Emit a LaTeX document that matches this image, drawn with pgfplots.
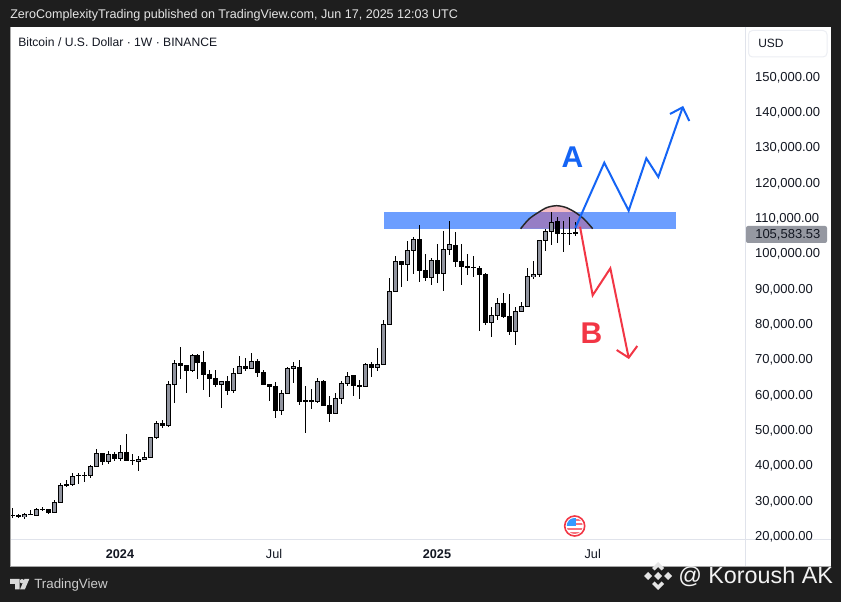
\documentclass[border=0pt]{standalone}
\usepackage{fontspec}
\setmainfont{Liberation Sans}
\usepackage{pgfplots}
\usepackage{pgfplotstable}
\pgfplotsset{compat=1.18}
\definecolor{frame}{RGB}{30,30,30}
\definecolor{sep}{RGB}{224,227,235}
\definecolor{upc}{RGB}{145,148,159}
\definecolor{bandc}{RGB}{108,158,255}
\definecolor{domec}{RGB}{229,69,91}
\definecolor{blueln}{RGB}{20,100,245}
\definecolor{redln}{RGB}{242,54,69}
\definecolor{txt}{RGB}{19,23,34}
\definecolor{tag}{RGB}{149,152,161}
% weekly candles, prices in thousands of USD
\pgfplotstableread{
i o h l c
0 25.57 27.55 24.91 25.57
1 25.48 26.04 24.91 25.48
2 25.19 26.23 24.63 25.85
3 25.95 27.08 25.85 25.95
4 25.57 27.55 25.57 27.27
5 27.27 27.93 26.70 27.27
6 27.27 27.27 26.04 26.33
7 26.42 29.91 26.42 29.25
8 29.25 34.63 29.25 34.07
9 34.35 35.58 33.69 33.97
10 34.35 37.47 33.97 36.62
11 36.99 37.47 34.35 36.99
12 36.99 37.75 35.10 36.99
13 36.90 39.83 36.24 39.45
14 39.45 44.36 39.45 43.13
15 43.13 43.13 39.83 40.77
16 40.87 43.79 40.20 42.85
17 42.85 43.41 41.05 41.62
18 41.71 45.49 41.05 43.41
19 43.41 48.60 41.15 41.15
20 41.15 42.94 39.92 41.15
21 40.87 42.28 38.22 41.43
22 41.43 43.41 41.43 41.99
23 41.99 47.66 41.99 47.66
24 47.56 52.29 47.28 51.63
25 51.63 52.57 50.21 50.96
26 50.96 63.52 50.49 62.67
27 62.67 69.56 57.29 68.62
28 68.62 73.24 64.27 67.96
29 68.05 68.05 60.31 66.54
30 66.63 71.26 66.07 70.88
31 70.88 71.26 64.27 68.90
32 68.90 72.02 61.07 65.50
33 65.50 66.73 59.18 64.27
34 64.37 66.73 62.01 62.57
35 62.67 63.52 56.06 63.52
36 63.52 65.03 59.74 60.88
37 60.97 67.39 60.31 65.78
38 65.78 70.69 65.78 67.77
39 67.77 70.13 66.35 67.20
40 67.20 71.45 66.92 69.18
41 69.18 69.75 64.65 65.97
42 66.07 66.73 62.57 62.57
43 62.57 62.57 57.95 62.01
44 62.20 63.33 53.23 55.21
45 55.21 61.06 53.98 60.12
46 60.12 67.48 60.12 67.20
47 67.11 69.03 63.14 67.77
48 67.48 69.56 56.91 57.76
49 58.14 62.20 48.98 57.76
50 58.14 61.35 55.78 57.76
51 57.76 64.37 57.48 63.52
52 63.52 63.80 56.63 56.63
53 56.72 59.36 52.10 54.36
54 54.36 60.21 54.36 58.70
55 58.70 63.52 57.19 62.95
56 62.95 66.16 62.29 64.93
57 65.22 65.22 59.36 62.29
58 62.29 63.90 58.61 62.29
59 62.10 68.71 62.10 68.33
60 68.33 68.90 64.84 67.39
61 67.39 72.96 66.54 68.33
62 68.33 80.89 68.33 79.66
63 79.66 92.69 79.66 89.01
64 89.01 99.01 89.01 97.50
65 97.50 97.50 90.23 96.56
66 96.65 103.17 92.03 100.62
67 100.62 104.39 94.01 103.73
68 103.73 107.79 91.74 94.95
69 94.95 99.58 92.03 92.88
70 92.88 98.45 90.89 97.79
71 97.79 102.41 91.27 94.10
72 94.10 106.00 89.20 100.90
73 100.90 108.92 99.20 102.32
74 102.03 105.72 95.99 97.41
75 97.50 102.41 90.89 95.99
76 96.09 99.48 93.73 95.71
77 95.80 98.92 93.16 95.80
78 95.52 96.18 77.87 93.82
79 93.91 94.10 79.56 80.13
80 80.13 84.66 76.17 82.21
81 82.11 87.02 80.89 85.61
82 85.61 88.44 81.36 81.83
83 82.02 88.25 76.73 77.58
84 77.58 84.66 73.90 83.34
85 83.34 85.89 83.15 84.76
86 84.76 95.52 84.76 93.16
87 93.16 97.59 92.59 93.82
88 93.82 103.45 93.16 103.45
89 103.45 106.56 100.52 105.98
90 105.98 111.47 102.03 108.55
91 108.83 110.15 102.79 105.43
92 105.43 108.83 100.14 105.43
93 105.43 109.96 102.22 105.43
94 105.43 108.55 104.77 105.58
}\candles
\begin{document}
\begin{tikzpicture}
\begin{scope}[x=0.75pt,y=-0.75pt,shift={(0pt,451.5pt)}]
\path[use as bounding box,fill=frame] (0,0) rectangle (841,602);
\fill[white] (11,27) rectangle (830.5,566);
\draw[gray!70,line width=0.5pt] (10.6,27) -- (10.6,566.4) -- (830.5,566.4);
\draw[sep,line width=0.75pt] (745.7,27) -- (745.7,566);
\draw[sep,line width=0.75pt] (11,539.5) -- (830.5,539.5);
\end{scope}
\begin{axis}[
  at={(8.25pt,46.875pt)},anchor=south west,
  scale only axis,width=551.25pt,height=384.375pt,
  xmin=-0.217,xmax=122.49,ymin=18.73,ymax=163.87,
  axis line style={draw=none},
  major tick length=0pt,
  ytick={20,30,40,50,60,70,80,90,100,110,120,130,140,150},
  yticklabels={{20,000.00},{30,000.00},{40,000.00},{50,000.00},{60,000.00},{70,000.00},{80,000.00},{90,000.00},{100,000.00},{110,000.00},{120,000.00},{130,000.00},{140,000.00},{150,000.00}},
  yticklabel pos=right,
  yticklabel style={anchor=west,inner xsep=0pt,xshift=6.6pt,yshift=-1.2pt,font=\fontsize{9.75}{11}\selectfont,text=txt},
  xtick={17.98,43.7,70.9,96.9},
  xticklabels={\textbf{2024},Jul,\textbf{2025},Jul},
  xticklabel style={anchor=center,yshift=-10.7pt,font=\fontsize{9.5}{11}\selectfont,text=txt},
]
% supply band
\addplot[fill=bandc,draw=none,forget plot] coordinates {(62.0,106.66)(110.8,106.66)(110.8,111.5)(62.0,111.5)};
% dome
\addplot[fill=domec,fill opacity=0.35,draw=black!85,line width=1.1pt,smooth,forget plot] coordinates {(84.87,106.75)(86.26,109.49)(87.88,111.42)(89.27,112.75)(90.88,113.26)(92.43,112.75)(93.94,111.42)(95.44,109.49)(96.89,106.75)};
% wicks, body outlines, up-candle interiors
\addplot[draw=none,mark=none,forget plot,error bars/.cd,y dir=both,y explicit,error mark=none,error bar style={line width=0.75pt,draw=black}] table[x=i,y expr={(\thisrow{h}+\thisrow{l})/2},y error expr={(\thisrow{h}-\thisrow{l})/2}] {\candles};
\addplot[draw=none,mark=none,forget plot,error bars/.cd,y dir=both,y explicit,error mark=none,error bar style={line width=3.75pt,draw=black}] table[x=i,y expr={(\thisrow{o}+\thisrow{c})/2},y error expr={abs(\thisrow{o}-\thisrow{c})/2+0.14}] {\candles};
\addplot[draw=none,mark=none,forget plot,error bars/.cd,y dir=both,y explicit,error mark=none,error bar style={line width=2.25pt,draw=upc}] table[x=i,y expr={(\thisrow{o}+\thisrow{c})/2},y error expr={max(0,(\thisrow{c}-\thisrow{o})/2-0.14)}] {\candles};
% scenario A
\addplot[blueln,line width=1.5pt,forget plot] coordinates {(93.99,106.94)(98.83,125.44)(102.90,111.84)(105.85,126.68)(107.85,121.39)(111.92,141.13)};
\addplot[blueln,line width=1.5pt,forget plot] coordinates {(109.80,139.23)(111.92,141.13)(113.02,137.25)};
% scenario B
\addplot[redln,line width=1.5pt,forget plot] coordinates {(94.78,107.31)(96.89,87.88)(99.84,95.53)(102.90,70.21)};
\addplot[redln,line width=1.5pt,forget plot] coordinates {(100.90,72.39)(102.90,70.21)(104.34,73.53)};
\node[text=blueln,font=\fontsize{22.5}{24}\selectfont\bfseries] at (axis cs:93.5,127.0) {A};
\node[text=redln,font=\fontsize{22.5}{24}\selectfont\bfseries] at (axis cs:96.7,77.3) {B};
\end{axis}
\begin{scope}[x=0.75pt,y=-0.75pt,shift={(0pt,451.5pt)}]
% last price tag
\fill[tag,rounded corners=1.5pt] (746,226) rectangle (827,243);
\node[anchor=west,inner sep=0pt,text=txt,font=\fontsize{9.75}{11}\selectfont] at (755,234.5) {105,583.53};
% currency box
\draw[sep!60,fill=white,rounded corners=3pt,line width=0.75pt] (748.5,30.5) rectangle (827,57);
\node[anchor=west,inner sep=0pt,text=txt,font=\fontsize{9}{11}\selectfont] at (758,43.5) {USD};
% header
\node[anchor=west,inner sep=0pt,text=white!90!black,font=\fontsize{9.42}{11}\selectfont] at (10,15) {ZeroComplexityTrading published on TradingView.com, Jun 17, 2025 12:03 UTC};
\node[anchor=west,inner sep=0pt,text=txt,font=\fontsize{9.1}{11}\selectfont] at (18,42.5) {Bitcoin / U.S. Dollar · 1W · BINANCE};
% US event icon
\begin{scope}
\draw[redln,line width=1.2pt,fill=white] (574.7,526) circle (10);
\clip (574.7,526) circle (8);
\fill[redln!70] (566,519.5) rectangle (584,521.5);
\fill[redln!70] (566,523.5) rectangle (584,525.5);
\fill[redln!70] (566,527.8) rectangle (584,529.8);
\fill[redln!70] (566,531.8) rectangle (584,535);
\fill[blue!50!cyan!80!white] (566,517) rectangle (576,526.5);
\end{scope}
% TradingView logo
\fill[white!85!black] (10,579) -- (19.5,579) -- (19.5,589.5) -- (15,589.5) -- (15,584) -- (10,584) -- cycle;
\fill[white!85!black] (22,581.2) circle (2.2);
\fill[white!85!black] (24.5,579) -- (29.3,579) -- (24.8,589.5) -- (20,589.5) -- cycle;
\node[anchor=west,inner sep=0pt,text=white!80!black,font=\fontsize{10}{12}\selectfont] at (34,585.5) {TradingView};
% watermark
\begin{scope}[white!90!black]
\fill (658,562) -- (664,568) -- (661.5,570.5) -- (658,567) -- (654.5,570.5) -- (652,568) -- cycle;
\fill (658,590) -- (664,584) -- (661.5,581.5) -- (658,585) -- (654.5,581.5) -- (652,584) -- cycle;
\fill (648,572) -- (652,576) -- (648,580) -- (644,576) -- cycle;
\fill (668,572) -- (672,576) -- (668,580) -- (664,576) -- cycle;
\fill (658,572) -- (662,576) -- (658,580) -- (654,576) -- cycle;
\end{scope}
\node[anchor=west,inner sep=0pt,text=white!95!black,font=\fontsize{17.5}{20}\selectfont] at (678,576.5) {@ Koroush AK};
\end{scope}
\end{tikzpicture}
\end{document}
